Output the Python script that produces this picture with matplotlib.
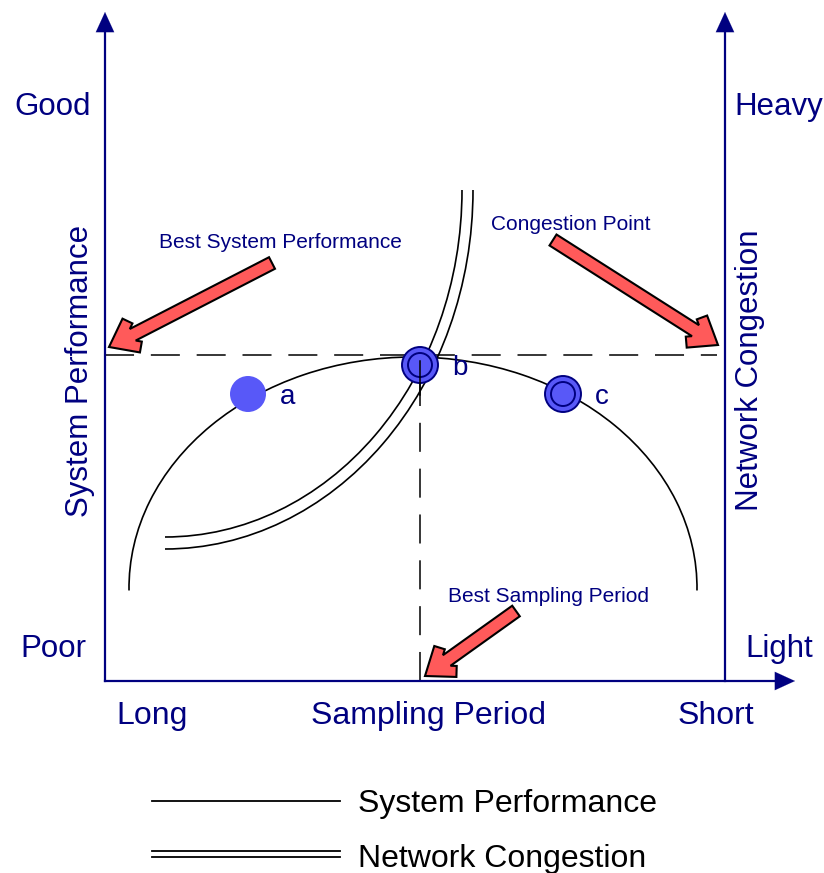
import numpy as np
import matplotlib
matplotlib.use('Agg')
import matplotlib.pyplot as plt
from matplotlib.patches import Arc, Circle, Polygon

plt.rcParams['font.family'] = ['Liberation Sans', 'DejaVu Sans']

# Diagram coordinates: origin at the axes corner, 1 unit ~ 1 pixel
navy = '#000080'
dot_blue = '#5858F8'
arrow_red = '#FF5A5A'

# Operating points on the performance curve
point_labels = ['a', 'b', 'c']
point_x = [143, 315, 458]
point_y = [287, 316, 287]
point_ring = [False, True, True]

# Best point (dashed guide lines)
best_x = 315
best_y = 326

# System performance curve (elliptic arc)
perf_center = (308, 93)
perf_size = (568, 462)
perf_theta = (-0.5, 180.5)

# Network congestion curve (double line, quarter ellipse)
cong_center = (60, 491)
cong_sizes = [(594, 694), (616, 718)]
cong_theta = (270, 360)

# Axis extents
x_end = 690
y_end = 669
right_x = 620

# Axis text
x_labels = ['Long', 'Sampling Period', 'Short']
x_label_pos = [47, 324, 611]
left_labels = ['Good', 'Poor']
right_labels = ['Heavy', 'Light']
level_y = [574, 32]

# Callouts: text, text position, arrow tail, arrow tip
callout_text = ['Best System Performance', 'Congestion Point', 'Best Sampling Period']
callout_pos = [(175, 439), (466, 456), (443, 84)]
callout_tail = [(167, 418), (448, 441), (411, 70)]
callout_tip = [(4, 334), (613, 336), (320, 5)]

legend_names = ['System Performance', 'Network Congestion']


def block_arrow(ax, tail, tip, w=6.5, L=25, H=19, T=11):
    tail, tip = np.array(tail, float), np.array(tip, float)
    u = (tip - tail) / np.linalg.norm(tip - tail)
    n = np.array([-u[1], u[0]])
    sides = {}
    for s in (1, -1):
        v = -L * u + s * H * n
        vh = v / np.linalg.norm(v)
        p = (-H * u - s * L * n) / np.linalg.norm(v)
        P1 = tip + v
        P2 = P1 + T * p
        a, b = np.linalg.solve(np.column_stack([vh, -u]), tip + s * w * n - P2)
        Q = P2 + a * vh
        sides[s] = [P1, P2, Q]
    pts = [tip] + sides[1] + [tail + w * n, tail - w * n] + sides[-1][::-1]
    ax.add_patch(Polygon(pts, closed=True, facecolor=arrow_red, edgecolor='black',
                         lw=1.5, joinstyle='miter', zorder=6))


fig = plt.figure(figsize=(8.24, 8.73), dpi=100)
ax = fig.add_axes([0, 0, 1, 1])
ax.set_xlim(-105, 719)
ax.set_ylim(-192, 681)
ax.axis('off')

# axes with arrows
ax.plot([0, 0], [0, y_end - 16], color=navy, lw=1.6, zorder=3)
ax.plot([right_x, right_x], [0, y_end - 16], color=navy, lw=1.6, zorder=3)
ax.plot([0, x_end - 16], [0, 0], color=navy, lw=1.6, zorder=3)
for tip, base in [((0, y_end), (0, y_end - 18)), ((right_x, y_end), (right_x, y_end - 18)),
                  ((x_end, 0), (x_end - 18, 0))]:
    ax.annotate('', xy=tip, xytext=base,
                arrowprops=dict(arrowstyle='-|>,head_length=1.2,head_width=0.55',
                                color=navy, lw=0.1, shrinkA=0, shrinkB=0,
                                mutation_scale=12))

# dashed guides
ax.plot([0, right_x - 8], [best_y, best_y], color='black', lw=1.1, ls=(0, (19, 11)), zorder=2)
ax.plot([best_x, best_x], [0, best_y - 2], color='black', lw=1.1, ls=(0, (19, 11)), zorder=2)

# curves
for size in cong_sizes:
    ax.add_patch(Arc(cong_center, size[0], size[1], theta1=cong_theta[0], theta2=cong_theta[1],
                     color='black', lw=1.2, zorder=3))
ax.add_patch(Arc(perf_center, perf_size[0], perf_size[1], theta1=perf_theta[0], theta2=perf_theta[1],
                 color='black', lw=1.2, zorder=3))

# points
for lab, x, y, ring in zip(point_labels, point_x, point_y, point_ring):
    if ring:
        ax.add_patch(Circle((x, y), 18, facecolor=dot_blue, edgecolor=navy, lw=1.4, zorder=5))
        ax.add_patch(Circle((x, y), 12, facecolor='none', edgecolor=navy, lw=1.4, zorder=5))
    else:
        ax.add_patch(Circle((x, y), 18, facecolor=dot_blue, edgecolor='none', zorder=5))
    ax.text(x + 32, y - 3, lab, color=navy, fontsize=20, ha='left', va='center', zorder=6)

# vertical guide over point b
ax.plot([best_x, best_x], [best_y - 6, best_y - 40], color='black', lw=1.1, zorder=6)

# axis texts
for lab, x in zip(x_labels, x_label_pos):
    ax.text(x, -35, lab, color=navy, fontsize=23, ha='center', va='center')
for lab, y in zip(left_labels, level_y):
    ax.text(-52, y, lab, color=navy, fontsize=22.5, ha='center', va='center')
for lab, y in zip(right_labels, level_y):
    ax.text(674, y, lab, color=navy, fontsize=22.5, ha='center', va='center')
ax.text(-25, 310, 'System Performance', color=navy, fontsize=22.5, rotation=90,
        ha='center', va='center')
ax.text(645, 311, 'Network Congestion', color=navy, fontsize=22.5, rotation=90,
        ha='center', va='center')

# callouts
for txt, pos, tail, tip in zip(callout_text, callout_pos, callout_tail, callout_tip):
    ax.text(pos[0], pos[1], txt, color=navy, fontsize=15, ha='center', va='center', zorder=7)
    block_arrow(ax, tail, tip)

# legend
ax.plot([47, 235], [-120, -120], color='black', lw=1.3)
ax.text(253, -123, legend_names[0], color='black', fontsize=23, ha='left', va='center')
ax.plot([47, 235], [-170, -170], color='black', lw=1.3)
ax.plot([47, 235], [-176, -176], color='black', lw=1.3)
ax.text(253, -178, legend_names[1], color='black', fontsize=23, ha='left', va='center')

fig.savefig('out.png', dpi=100)
